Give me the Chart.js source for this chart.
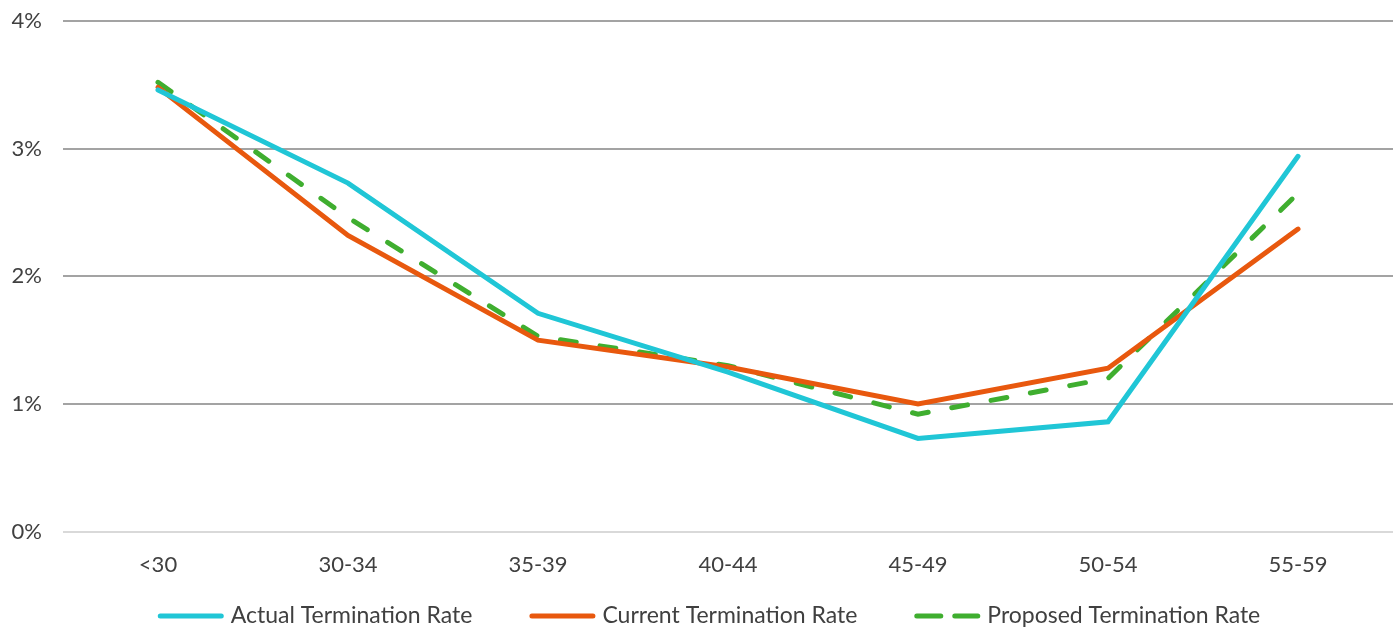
<!DOCTYPE html>
<html>
<head>
<meta charset="utf-8">
<title>Termination Rates by Age Band</title>
<script src="https://cdn.jsdelivr.net/npm/chart.js@4.4.1/dist/chart.umd.min.js"></script>
<style>
  html, body { margin: 0; padding: 0; background: #ffffff; }
  #wrap { width: 1394px; height: 629px; position: relative; }
</style>
</head>
<body>
<div id="wrap"><canvas id="chart"></canvas></div>
<script>
// Age bands along the x axis
const ageBands = ['<30', '30-34', '35-39', '40-44', '45-49', '50-54', '55-59'];

// Termination rates, in percent
const actualRate   = [3.46, 2.73, 1.71, 1.25, 0.73, 0.86, 2.94];
const currentRate  = [3.48, 2.32, 1.50, 1.29, 1.00, 1.28, 2.37];
const proposedRate = [3.52, 2.46, 1.53, 1.30, 0.92, 1.20, 2.65];

// Y axis tick values, in percent
const yTicks = [0, 1, 2, 3, 4];

const FONT = 'Lato, "Open Sans", "DejaVu Sans", sans-serif';
const TEXT = '#404040';

const lineStyle = (color, dash) => ({
  borderColor: color,
  backgroundColor: color,
  borderWidth: 5,
  borderCapStyle: 'round',
  borderJoinStyle: 'miter',
  borderDash: dash,
  pointRadius: 0,
  pointHoverRadius: 0,
  tension: 0,
  fill: false
});

// Legend row drawn under the axis: line sample, then the series name
const bottomLegend = {
  id: 'bottomLegend',
  afterDraw(chart) {
    const ctx = chart.ctx;
    const sample = 66, gapText = 7, gapItem = 57, fontSize = 23, y = 616;
    ctx.save();
    ctx.font = fontSize + 'px ' + FONT;
    const items = chart.data.datasets.map(ds => ({
      ds, w: sample + gapText + ctx.measureText(ds.label).width
    }));
    const total = items.reduce((s, it) => s + it.w, 0) + gapItem * (items.length - 1);
    let x = 709 - total / 2;
    items.forEach(({ ds, w }) => {
      ctx.beginPath();
      ctx.strokeStyle = ds.borderColor;
      ctx.lineWidth = ds.borderWidth;
      ctx.lineCap = 'round';
      ctx.setLineDash(ds.borderDash && ds.borderDash.length ? [24, 14] : []);
      ctx.moveTo(x + 2.5, y);
      ctx.lineTo(x + sample - 2.5, y);
      ctx.stroke();
      ctx.setLineDash([]);
      ctx.fillStyle = TEXT;
      ctx.textBaseline = 'middle';
      ctx.textAlign = 'left';
      ctx.fillText(ds.label, x + sample + gapText, y);
      x += w + gapItem;
    });
    ctx.restore();
  }
};

new Chart(document.getElementById('chart'), {
  type: 'line',
  data: {
    labels: ageBands,
    datasets: [
      Object.assign({ label: 'Actual Termination Rate', data: actualRate }, lineStyle('#20c6d6', [])),
      Object.assign({ label: 'Current Termination Rate', data: currentRate }, lineStyle('#e8580e', [])),
      Object.assign({ label: 'Proposed Termination Rate', data: proposedRate }, lineStyle('#3fae2f', [16, 24]))
    ]
  },
  plugins: [bottomLegend],
  options: {
    responsive: true,
    maintainAspectRatio: false,
    animation: false,
    layout: { padding: { top: 21, right: 1, left: 0, bottom: 31 } },
    plugins: {
      tooltip: { enabled: false },
      legend: { display: false }
    },
    scales: {
      x: {
        offset: true,
        grid: { display: false, drawTicks: false },
        border: { display: false },
        ticks: { color: TEXT, padding: 20, font: { family: FONT, size: 22 } }
      },
      y: {
        min: 0,
        max: 4,
        afterFit(scale) { scale.width = 63; },
        afterBuildTicks(scale) { scale.ticks = yTicks.map(v => ({ value: v })); },
        grid: {
          drawTicks: true,
          tickLength: 21,
          tickColor: 'transparent',
          lineWidth: 2,
          color: ctx => (ctx.tick && ctx.tick.value === 0) ? '#d9d9d9' : '#a3a3a3'
        },
        border: { display: false },
        ticks: {
          color: TEXT,
          padding: 0,
          font: { family: FONT, size: 22 },
          callback: v => v + '%'
        }
      }
    }
  }
});
</script>
</body>
</html>
